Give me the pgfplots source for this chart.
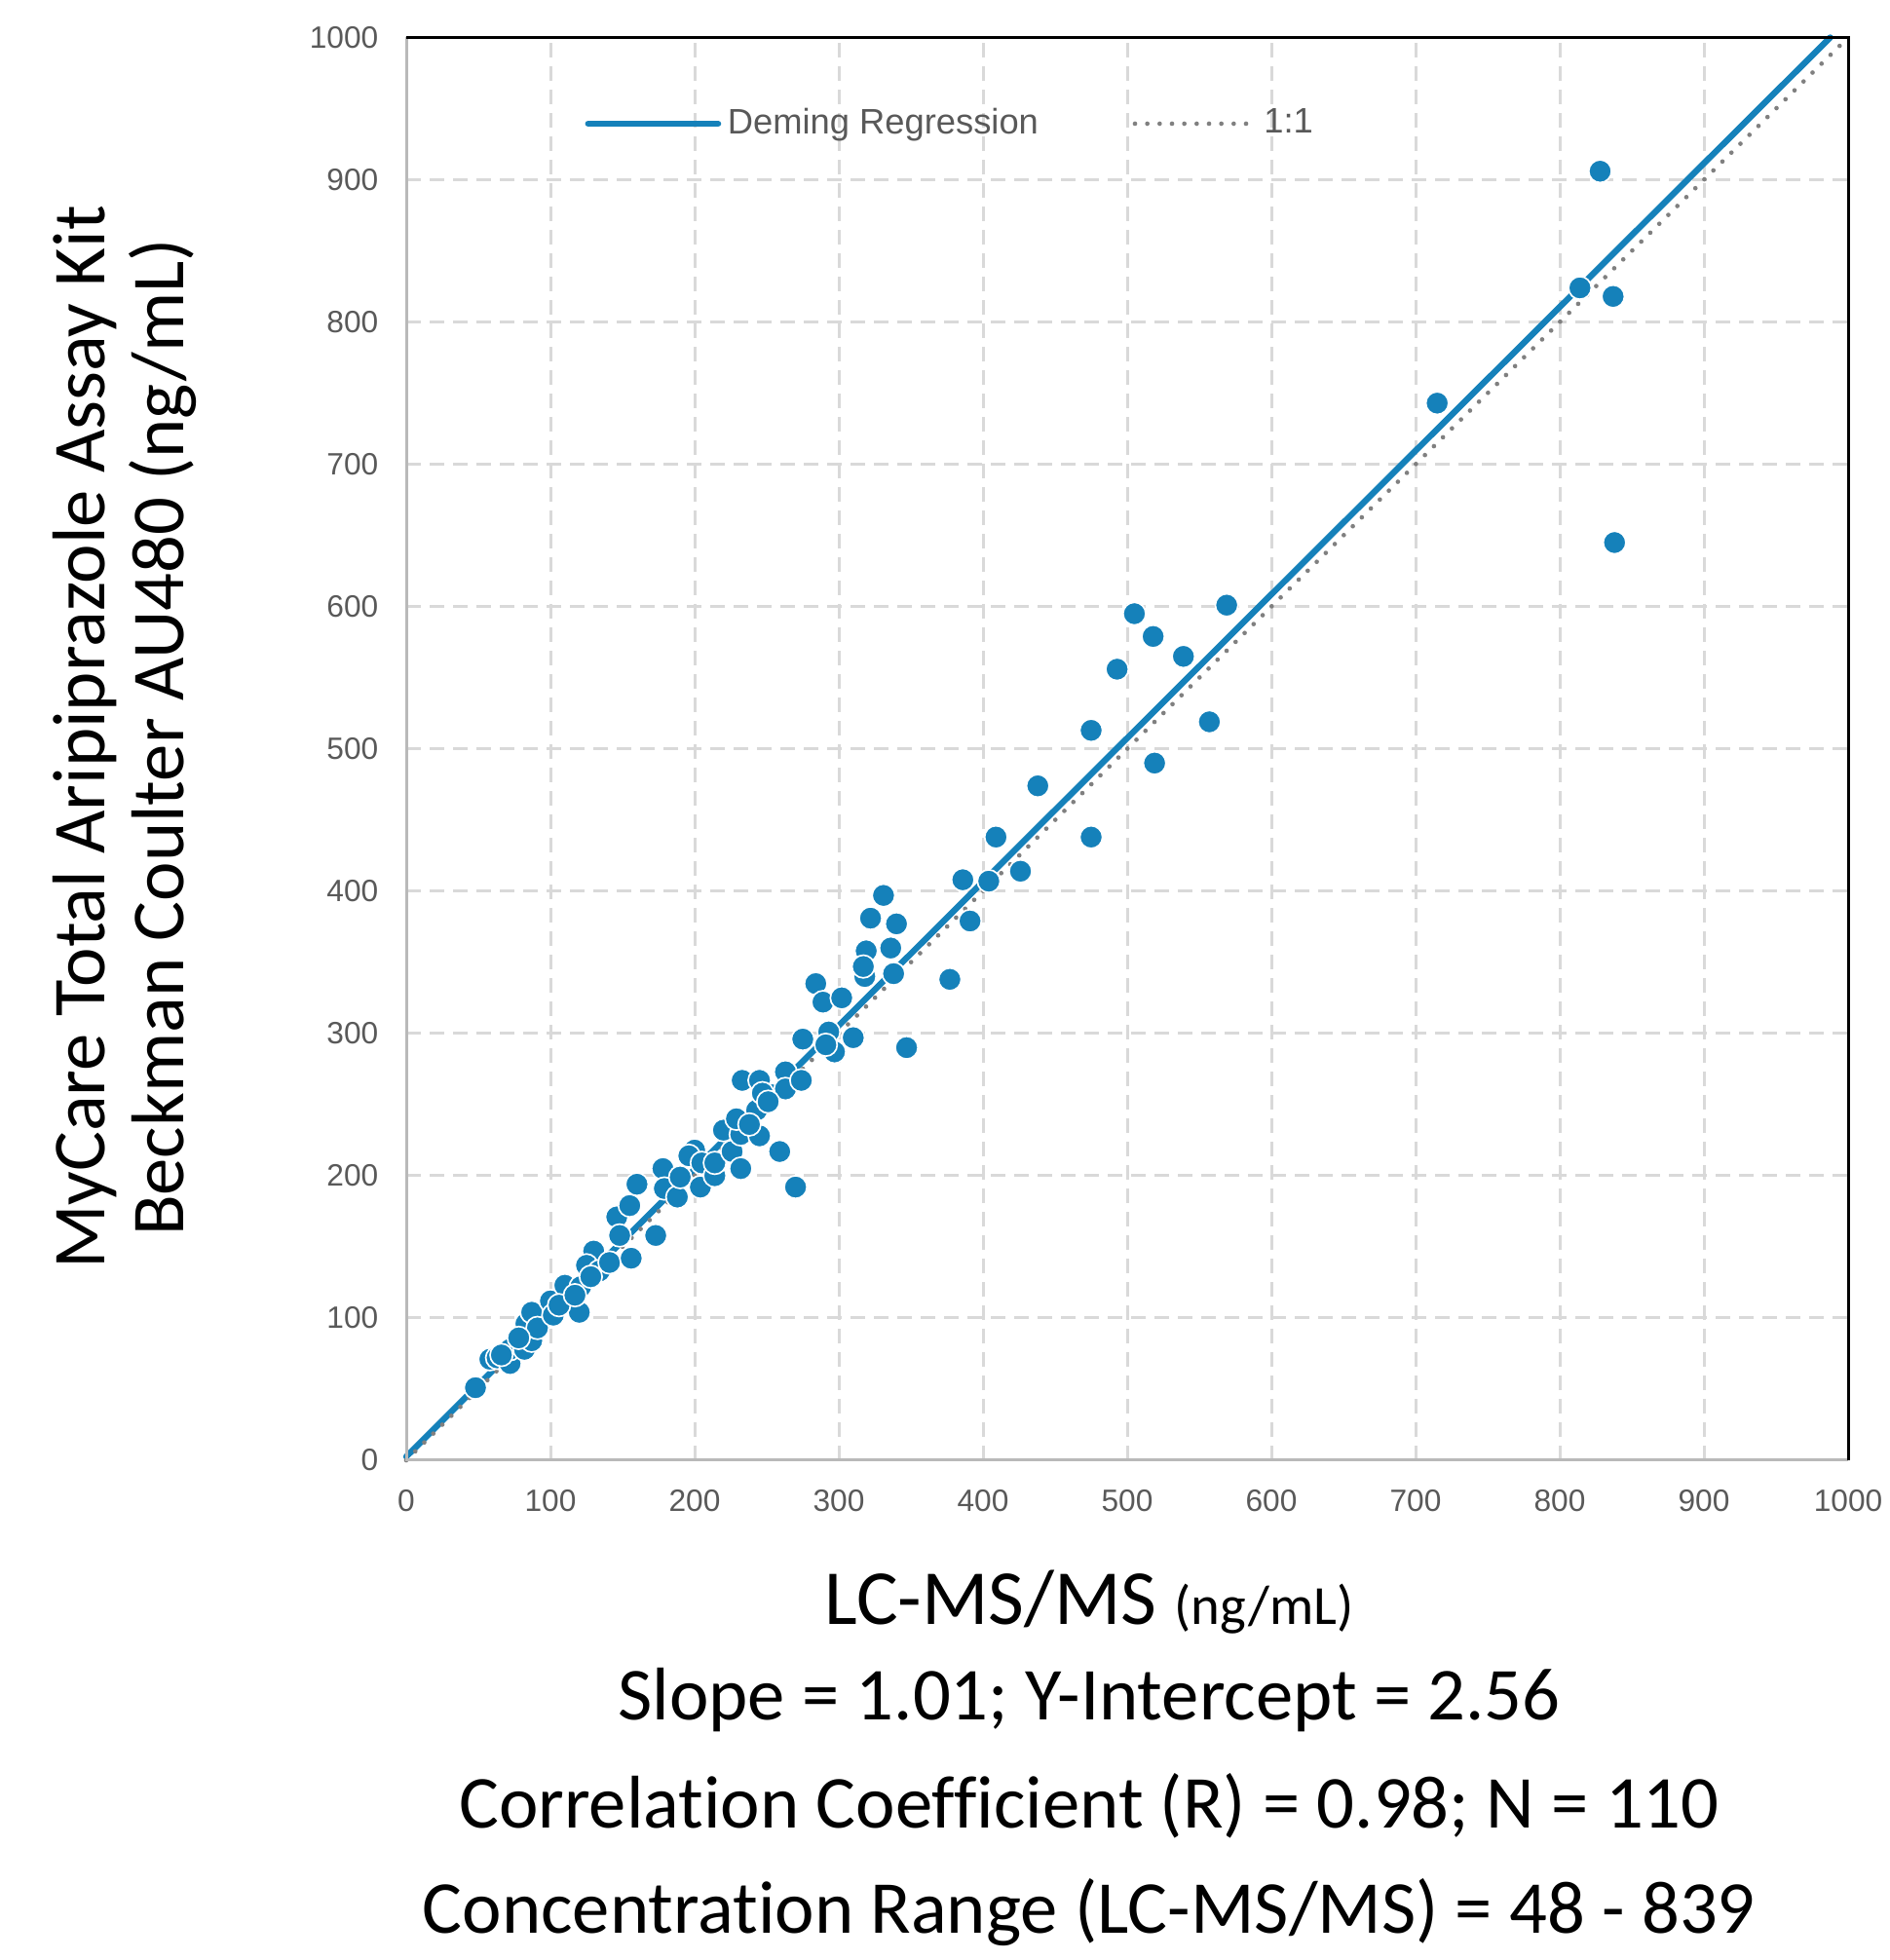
\documentclass[border=0pt]{standalone}
\usepackage{fontspec}
\setmainfont{Liberation Sans}
\newfontfamily\lightfont[Ligatures={NoCommon,NoContextual}]{Carlito}
\usepackage{pgfplots}
\pgfplotsset{compat=1.18}
\definecolor{dblue}{RGB}{21,129,186}
\definecolor{tickgray}{RGB}{89,89,89}
\definecolor{gridgray}{RGB}{217,217,217}
\definecolor{axgray}{RGB}{185,185,185}
\definecolor{dotgray}{RGB}{128,128,128}
\begin{document}
\begin{tikzpicture}
\path[use as bounding box] (-125.1pt,-153.9pt) rectangle (456.6pt,449.7pt);
\begin{axis}[
  at={(0pt,0pt)}, anchor=south west,
  scale only axis, width=444pt, height=438.15pt,
  xmin=0, xmax=1000, ymin=0, ymax=1000,
  xtick={0,100,...,1000}, ytick={0,100,...,1000},
  grid=major,
  major grid style={gridgray, line width=0.9pt, dash pattern=on 4.5pt off 2.7pt},
  major tick length=0pt,
  axis line style={draw=none},
  tick label style={font=\fontsize{9.5}{10}\selectfont, text=tickgray},
  /pgf/number format/assume math mode=true,
  /pgf/number format/1000 sep={},
  xticklabel style={anchor=north, inner sep=0pt, yshift=-9pt},
  yticklabel style={anchor=east, inner sep=0pt, xshift=-8.4pt},
  clip=false,
  legend style={at={(0.1236,0.9394)}, anchor=west, draw=none, fill=none,
    inner sep=0pt, font=\fontsize{10.9}{12}\selectfont, text=tickgray,
    /tikz/every even column/.append style={column sep=27pt}},
  legend columns=2,
  legend cell align=left,
  after end axis/.code={
    \draw[axgray, line width=0.9pt] (rel axis cs:0,1) -- (rel axis cs:0,0) -- (rel axis cs:1,0);
    \draw[black, line width=0.9pt] (rel axis cs:0,1) -- (rel axis cs:1,1) -- (rel axis cs:1,0);
  },
]
\addplot[only marks, mark=*, mark size=3.5pt,
  mark options={fill=dblue, draw=white, line width=0.5pt}, forget plot]
table {
x y
48 51
58 71
63 72
72 68
72 78
82 78
83 96
87 104
87 84
91 93
66 74
78 86
100 112
102 102
110 123
113 110
120 104
121 122
106 109
117 116
130 147
125 137
134 133
141 139
128 129
146 171
155 179
148 158
156 142
160 194
173 158
178 205
179 191
188 185
190 199
200 218
196 214
204 192
205 209
214 200
214 209
220 232
226 217
232 205
232 229
233 267
229 240
245 228
243 246
245 267
253 257
259 217
263 273
270 192
263 261
274 267
247 258
238 236
251 252
275 296
284 335
289 322
302 325
293 301
297 287
310 297
291 292
318 340
331 397
322 381
340 377
319 358
336 360
317 347
338 342
377 338
347 290
386 408
404 407
426 414
391 379
409 438
475 438
438 474
475 513
519 490
557 519
493 556
539 565
518 579
505 595
569 601
715 743
838 645
814 824
837 818
828 906
};
\addplot[dblue, line width=1.9pt, line cap=round,
  legend image code/.code={\draw[dblue, line width=1.9pt, line cap=round] (0pt,0pt) -- (40pt,0pt);}]
  coordinates {(0,2.56) (987.6,1000)};
\addlegendentry{Deming Regression}
\addplot[dotgray, line width=1.4pt, line cap=round, dash pattern=on 0pt off 3.9pt,
  legend image code/.code={\draw[dotgray, line width=1.4pt, line cap=round, dash pattern=on 0pt off 3.8pt] (0pt,0pt) -- (37pt,0pt);}]
  coordinates {(0,0) (1000,1000)};
\addlegendentry{1:1}
\end{axis}
\node[rotate=90, font=\lightfont\fontsize{23}{27}\selectfont] at (-99pt,222.6pt) {MyCare Total Aripiprazole Assay Kit};
\node[rotate=90, font=\lightfont\fontsize{23}{27}\selectfont] at (-75pt,222.6pt) {Beckman Coulter AU480 (ng/mL)};
\node[font=\lightfont\fontsize{24}{28}\selectfont] at (210.3pt,-43.8pt) {LC-MS/MS {\fontsize{17}{20}\selectfont (ng/mL)}};
\node[font=\lightfont\fontsize{23}{27}\selectfont] at (210.3pt,-73.8pt) {Slope = 1.01; Y-Intercept = 2.56};
\node[font=\lightfont\fontsize{23}{27}\selectfont] at (210.3pt,-106.5pt) {Correlation Coefficient (R) = 0.98; N = 110};
\node[font=\lightfont\fontsize{23}{27}\selectfont] at (210.3pt,-139.2pt) {Concentration Range (LC-MS/MS) = 48 - 839};
\end{tikzpicture}
\end{document}
